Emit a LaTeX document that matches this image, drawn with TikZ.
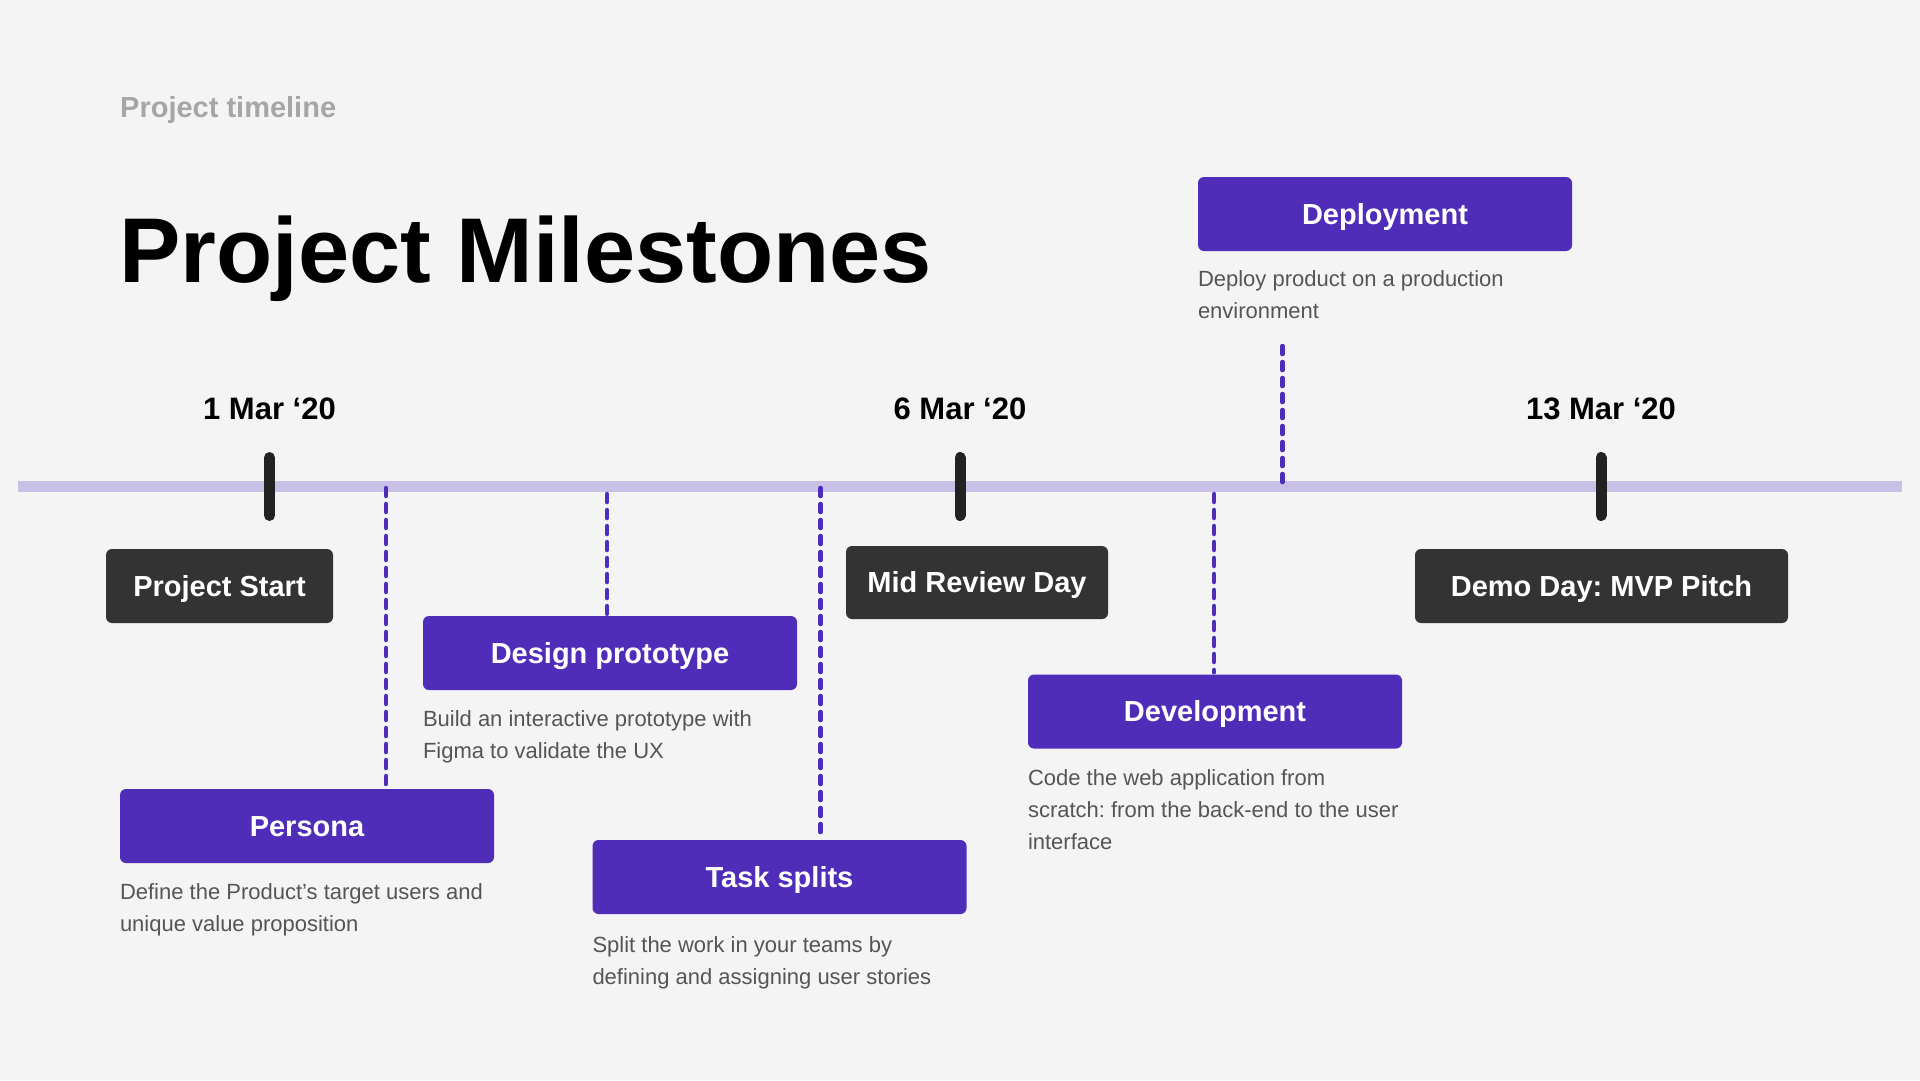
\documentclass[tikz,border=0pt]{standalone}
\usepackage{fontspec}
\setmainfont{Liberation Sans}
\usetikzlibrary{positioning}

\definecolor{bgGray}{HTML}{F4F4F4}
\definecolor{barLilac}{HTML}{C8C0E6}
\definecolor{mPurple}{HTML}{4F2DB9}
\definecolor{boxDark}{HTML}{333333}
\definecolor{tickDark}{HTML}{222222}
\definecolor{descGray}{HTML}{555555}
\definecolor{subGray}{HTML}{A6A6A6}

\begin{document}
\frenchspacing
\begin{tikzpicture}[x=1pt,y=-1pt,
    darkbox/.style={fill=boxDark, text=white, rounded corners=6pt, minimum height=74pt,
      inner sep=0pt, text height=20.8pt, text depth=0pt, font=\fontsize{29}{34}\selectfont\bfseries},
    phasebox/.style={fill=mPurple, text=white, rounded corners=6pt, minimum width=374pt,
      minimum height=74pt, inner sep=0pt, text height=20.8pt, text depth=0pt,
      font=\fontsize{29}{34}\selectfont\bfseries},
    desc/.style={text=descGray, align=left, inner sep=0pt, font=\fontsize{22}{32}\selectfont},
    datelabel/.style={anchor=base, inner sep=0pt, font=\fontsize{31}{36}\selectfont\bfseries},
    tickmark/.style={draw=tickDark, line width=11pt, line cap=round},
    link/.style={draw=mPurple, line width=4.5pt, dash pattern=on 8pt off 8pt, line cap=round}]

      % Page size and background
      \def\W{1920}
      \def\H{1080}
      \useasboundingbox (0,0) rectangle (\W,\H);
      \fill[bgGray] (0,0) rectangle (\W,\H);

      % Headings
      \node[anchor=base west, inner sep=0pt, text=subGray, font=\fontsize{29}{34}\selectfont\bfseries]
        (kicker) at (120,117) {Project timeline};
      \node[anchor=base west, inner sep=0pt, font=\fontsize{92}{110}\selectfont\bfseries]
        (title) at (119,282) {Project Milestones};

      % Timeline bar
      \draw[barLilac, line width=11pt] (18,486.5) -- (1902,486.5);

      % Ticks and dates
      \foreach \x/\d [count=\i] in {269.5/1 Mar ‘20, 960/6 Mar ‘20, 1601/13 Mar ‘20} {
        \draw[tickmark] (\x,457.5) -- (\x,515.5);
        \node[datelabel] (date\i) at (\x,419) {\d};
      }

      % Milestone boxes (dark)
      \node[darkbox, minimum width=227pt] (start) at (219.5,586) {Project Start};
      \node[darkbox, minimum width=262pt, minimum height=73pt] (review) at (977,582.5) {Mid Review Day};
      \node[darkbox, minimum width=373pt] (demo) at (1601.5,586) {Demo Day: MVP Pitch};

      % Phase boxes (purple)
      \node[phasebox] (persona) at (307,826) {Persona};
      \node[phasebox] (design) at (610,653) {Design prototype};
      \node[phasebox] (tasks) at (779.5,877) {Task splits};
      \node[phasebox] (dev) at (1215,711.5) {Development};
      \node[phasebox] (deploy) at (1385,214) {Deployment};

      % Phase descriptions
      \node[desc, below right=20pt and 0pt of persona.south west] (personaText)
        {Define the Product's target users and\\unique value proposition};
      \node[desc, below right=20pt and 0pt of design.south west] (designText)
        {Build an interactive prototype with\\Figma to validate the UX};
      \node[desc, below right=22pt and 0pt of tasks.south west] (tasksText)
        {Split the work in your teams by\\defining and assigning user stories};
      \node[desc, below right=21pt and 0pt of dev.south west] (devText)
        {Code the web application from\\scratch: from the back-end to the user\\interface};
      \node[desc, below right=19pt and 0pt of deploy.south west] (deployText)
        {Deploy product on a production\\environment};

      % Points on the bar
      \coordinate (onPersona) at (386,488);
      \coordinate (onDesign) at (607,494);
      \coordinate (onTasks) at (820.5,488);
      \coordinate (onDev) at (1214,494);
      \coordinate (onDeploy) at (1282.5,484);
      \coordinate (deployTop) at (1282.5,346);

      % Dashed links
      \draw[link] (onPersona) -- ([yshift=2pt]onPersona |- persona.north);
      \draw[link] (onDesign) -- ([yshift=2pt]onDesign |- design.north);
      \draw[link] (onTasks) -- ([yshift=2pt]onTasks |- tasks.north);
      \draw[link] (onDev) -- ([yshift=2pt]onDev |- dev.north);
      \draw[link] (deployTop) -- (onDeploy);
    \end{tikzpicture}
\end{document}
